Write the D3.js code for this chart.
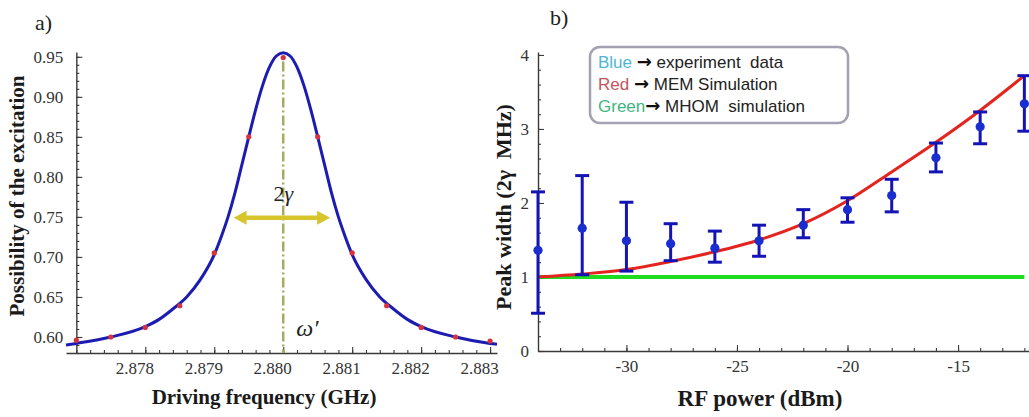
<!DOCTYPE html>
<html>
<head>
<meta charset="utf-8">
<script src="https://cdn.jsdelivr.net/npm/d3@7/dist/d3.min.js"></script>
<style>
  body { margin: 0; background: #fff; }
  svg { display: block; }
  .serif { font-family: "Liberation Serif", Tinos, "Times New Roman", "DejaVu Serif", serif; }
  .title { font-weight: bold; fill: #1a1a1a; }
  .legend { font-family: "Liberation Sans", Arimo, Arial, sans-serif; font-size: 17px; fill: #222; }
</style>
</head>
<body>
<svg id="chart" width="1029" height="417"></svg>
<script>
// ---- panel a) data ----
const measFreq = [2.8770, 2.8775, 2.8780, 2.8785, 2.8790, 2.8795, 2.8800, 2.8805, 2.8810, 2.8815, 2.8820, 2.8825, 2.8830];
const measProb = [0.596, 0.600, 0.612, 0.639, 0.705, 0.850, 0.949, 0.850, 0.705, 0.639, 0.612, 0.600, 0.595];
// fitted curve
const fitFreq = [2.87685, 2.8770, 2.8775, 2.8780, 2.8782, 2.8784, 2.8786, 2.8788, 2.8790, 2.8791, 2.8792, 2.8793,
                 2.8794, 2.8795, 2.8796, 2.8797, 2.8798, 2.8799, 2.8800, 2.8801, 2.8802, 2.8803, 2.8804, 2.8805,
                 2.8806, 2.8807, 2.8808, 2.8809, 2.8810, 2.8812, 2.8814, 2.8816, 2.8818, 2.8820, 2.8825, 2.8830, 2.8831];
const fitProb = [0.590, 0.592, 0.600, 0.613, 0.622, 0.635, 0.650, 0.672, 0.703, 0.725, 0.750, 0.780,
                 0.815, 0.850, 0.884, 0.914, 0.937, 0.951, 0.955, 0.951, 0.937, 0.914, 0.884, 0.850,
                 0.815, 0.780, 0.750, 0.725, 0.703, 0.672, 0.650, 0.635, 0.622, 0.613, 0.600, 0.592, 0.591];
const aYTicks = [0.60, 0.65, 0.70, 0.75, 0.80, 0.85, 0.90, 0.95];
const aXTicks = [2.878, 2.879, 2.880, 2.881, 2.882, 2.883];

// ---- panel b) data ----
const rfPower = [-34, -32, -30, -28, -26, -24, -22, -20, -18, -16, -14, -12];
const widthMean = [1.36, 1.66, 1.49, 1.45, 1.39, 1.49, 1.70, 1.91, 2.10, 2.61, 3.03, 3.34];
const widthLow = [0.51, 1.03, 1.08, 1.22, 1.20, 1.28, 1.53, 1.74, 1.88, 2.42, 2.80, 2.97];
const widthHigh = [2.15, 2.37, 2.01, 1.72, 1.62, 1.70, 1.91, 2.07, 2.32, 2.81, 3.23, 3.72];
const memPower = [-34, -32, -30, -28, -26, -24, -22, -20, -18, -16, -14, -12];
const memWidth = [1.00, 1.04, 1.10, 1.21, 1.34, 1.50, 1.72, 2.03, 2.42, 2.82, 3.25, 3.72];
const mhomPower = [-34, -12];
const mhomWidth = [1.0, 1.0];
const bYTicks = [0, 1, 2, 3, 4];
const bXTicks = [-30, -25, -20, -15];
const legendRows = [
    { key: 'Blue', color: '#4fb6d3', gap: ' ', text: ' experiment  data' },
    { key: 'Red', color: '#c4535f', gap: ' ', text: ' MEM Simulation' },
    { key: 'Green', color: '#3fb57f', gap: '', text: ' MHOM  simulation' }
];

const svg = d3.select('#chart');
const axisColor = '#3a3a3a';
const serifFont = '"Liberation Serif", Tinos, "Times New Roman", "DejaVu Serif", serif';

function styleAxis(g) {
    g.attr('font-family', null).attr('font-size', null);
    g.select('.domain').attr('stroke', axisColor).attr('stroke-width', 1.4);
    g.selectAll('.tick line').attr('stroke', axisColor).attr('stroke-width', 1.1);
    g.selectAll('.tick text')
        .style('font-family', serifFont)
        .style('font-size', '17px')
        .attr('fill', '#333');
}

// ================= panel a =================
const xA = d3.scaleLinear().domain([2.87685, 2.8831]).range([66, 497]);
const yA = d3.scaleLinear().domain([0.58, 0.956]).range([353, 52]);

// minor ticks first
svg.append('g')
    .attr('transform', `translate(0,${yA(0.58)})`)
    .call(d3.axisBottom(xA).tickValues(d3.range(2.8770, 2.8831, 0.0002)).tickSize(-3).tickSizeOuter(0).tickFormat(''))
    .call(styleAxis);
svg.append('g')
    .attr('transform', `translate(0,${yA(0.58)})`)
    .call(d3.axisBottom(xA).tickValues(aXTicks).tickSize(-6).tickSizeOuter(0).tickPadding(9).tickFormat(d3.format('.3f')))
    .call(styleAxis)
    .call(g => g.select('.domain').remove())
    .call(g => g.selectAll('.tick text').attr('dx', -11));

svg.append('g').attr('transform', `translate(${xA(2.877)},0)`)
    .call(d3.axisLeft(yA).tickValues(d3.range(0.58, 0.956, 0.01)).tickSize(-3).tickSizeOuter(0).tickFormat(''))
    .call(styleAxis);
svg.append('g').attr('transform', `translate(${xA(2.877)},0)`)
    .call(d3.axisLeft(yA).tickValues(aYTicks).tickSize(-6).tickPadding(13).tickFormat(d3.format('.2f')))
    .call(styleAxis)
    .call(g => g.select('.domain').remove());

// resonance marker (dash-dot)
svg.append('line')
    .attr('x1', xA(2.880)).attr('x2', xA(2.880))
    .attr('y1', yA(0.944)).attr('y2', yA(0.58))
    .attr('stroke', '#a6ab62').attr('stroke-width', 2.5)
    .attr('stroke-dasharray', '10,3,2,3');

// fitted curve
const lineA = d3.line().x((d, i) => xA(fitFreq[i])).y(d => yA(d)).curve(d3.curveMonotoneX);
svg.append('path')
    .attr('d', lineA(fitProb))
    .attr('fill', 'none')
    .attr('stroke', '#1c1cb0')
    .attr('stroke-width', 3);

// measured points
svg.append('g').selectAll('circle')
    .data(measProb)
    .join('circle')
        .attr('cx', (d, i) => xA(measFreq[i]))
        .attr('cy', d => yA(d))
        .attr('r', 2.6)
        .attr('fill', '#d8323f');

// 2 gamma double arrow
const arrL = xA(2.87928), arrR = xA(2.88068), arrY = yA(0.749);
const head = 13, half = 7, shaft = 2.3;
svg.append('path')
    .attr('d', `M${arrL},${arrY} L${arrL + head},${arrY - half} L${arrL + head},${arrY - shaft}
                L${arrR - head},${arrY - shaft} L${arrR - head},${arrY - half} L${arrR},${arrY}
                L${arrR - head},${arrY + half} L${arrR - head},${arrY + shaft} L${arrL + head},${arrY + shaft}
                L${arrL + head},${arrY + half} Z`)
    .attr('fill', '#d6c62c');

svg.append('text').attr('class', 'serif')
    .attr('x', xA(2.880)).attr('y', yA(0.77))
    .attr('text-anchor', 'middle')
    .style('font-size', '22px').attr('fill', '#222')
    .html('2<tspan font-style="italic">γ</tspan>');
svg.append('text').attr('class', 'serif')
    .attr('x', xA(2.88035)).attr('y', yA(0.601))
    .attr('text-anchor', 'middle')
    .style('font-size', '24px').style('font-style', 'italic').attr('fill', '#222')
    .text('ω′');

svg.append('text').attr('class', 'serif title')
    .attr('transform', 'translate(24,196) rotate(-90)')
    .attr('text-anchor', 'middle').style('font-size', '21px')
    .text('Possibility of the excitation');
svg.append('text').attr('class', 'serif title')
    .attr('x', 264).attr('y', 404)
    .attr('text-anchor', 'middle').style('font-size', '21px')
    .text('Driving frequency (GHz)');
svg.append('text').attr('class', 'serif')
    .attr('x', 35).attr('y', 30)
    .style('font-size', '22px').attr('fill', '#222')
    .text('a)');

// ================= panel b =================
const xB = d3.scaleLinear().domain([-34, -11.7]).range([538, 1031]);
const yB = d3.scaleLinear().domain([0, 4.04]).range([351, 52]);

svg.append('g')
    .attr('transform', `translate(0,${yB(0)})`)
    .call(d3.axisBottom(xB).tickValues(d3.range(-33, -11, 1)).tickSize(-3).tickSizeOuter(0).tickFormat(''))
    .call(styleAxis);
svg.append('g')
    .attr('transform', `translate(0,${yB(0)})`)
    .call(d3.axisBottom(xB).tickValues(bXTicks).tickSize(-6).tickSizeOuter(0).tickPadding(9).tickFormat(d => String(d)))
    .call(styleAxis)
    .call(g => g.select('.domain').remove());

svg.append('g').attr('transform', `translate(${xB(-34)},0)`)
    .call(d3.axisLeft(yB).tickValues(d3.range(0, 4.01, 0.2)).tickSize(-3).tickSizeOuter(0).tickFormat(''))
    .call(styleAxis);
svg.append('g').attr('transform', `translate(${xB(-34)},0)`)
    .call(d3.axisLeft(yB).tickValues(bYTicks).tickSize(-6).tickPadding(9).tickFormat(d3.format('d')))
    .call(styleAxis)
    .call(g => g.select('.domain').remove());

// MHOM simulation (green) and MEM simulation (red)
const lineB = d3.line().curve(d3.curveMonotoneX);
svg.append('path')
    .attr('d', lineB(mhomPower.map((p, i) => [xB(p), yB(mhomWidth[i])])))
    .attr('fill', 'none').attr('stroke', '#1fdc1f').attr('stroke-width', 4);
svg.append('path')
    .attr('d', lineB(memPower.map((p, i) => [xB(p), yB(memWidth[i])])))
    .attr('fill', 'none').attr('stroke', '#e3241f').attr('stroke-width', 3);

// experiment data with error bars
const blue = '#1414b4';
const bars = svg.append('g').selectAll('g')
    .data(rfPower)
    .join('g');
bars.append('line')
    .attr('x1', d => xB(d)).attr('x2', d => xB(d))
    .attr('y1', (d, i) => yB(widthLow[i])).attr('y2', (d, i) => yB(widthHigh[i]))
    .attr('stroke', blue).attr('stroke-width', 3);
bars.append('line')
    .attr('x1', d => xB(d) - 7).attr('x2', d => xB(d) + 7)
    .attr('y1', (d, i) => yB(widthLow[i])).attr('y2', (d, i) => yB(widthLow[i]))
    .attr('stroke', blue).attr('stroke-width', 3);
bars.append('line')
    .attr('x1', d => xB(d) - 7).attr('x2', d => xB(d) + 7)
    .attr('y1', (d, i) => yB(widthHigh[i])).attr('y2', (d, i) => yB(widthHigh[i]))
    .attr('stroke', blue).attr('stroke-width', 3);
bars.append('circle')
    .attr('cx', d => xB(d))
    .attr('cy', (d, i) => yB(widthMean[i]))
    .attr('r', 4.6)
    .attr('fill', '#1a2ed0');

// legend box
svg.append('rect')
    .attr('x', 590).attr('y', 47).attr('width', 258).attr('height', 76)
    .attr('rx', 10).attr('ry', 10)
    .attr('fill', '#fff').attr('stroke', '#a2a2b2').attr('stroke-width', 2.5);
const legendText = svg.append('g').selectAll('text')
    .data(legendRows)
    .join('text')
        .attr('class', 'legend')
        .attr('x', 598)
        .attr('y', (d, i) => 68 + i * 22)
        .attr('xml:space', 'preserve');
legendText.append('tspan').attr('fill', d => d.color).text(d => d.key + d.gap);
legendText.append('tspan')
    .style('font-family', '"DejaVu Sans", sans-serif').style('font-weight', 'bold').style('font-size', '18px')
    .attr('fill', '#111').text('→');
legendText.append('tspan').text(d => d.text);

svg.append('text').attr('class', 'serif title')
    .attr('transform', 'translate(511,207) rotate(-90)')
    .attr('text-anchor', 'middle').style('font-size', '22px')
    .attr('xml:space', 'preserve')
    .text('Peak width (2γ  MHz)');
svg.append('text').attr('class', 'serif title')
    .attr('x', 760).attr('y', 406)
    .attr('text-anchor', 'middle').style('font-size', '23px')
    .text('RF power (dBm)');
svg.append('text').attr('class', 'serif')
    .attr('x', 550).attr('y', 25)
    .style('font-size', '22px').attr('fill', '#222')
    .text('b)');
</script>
</body>
</html>
